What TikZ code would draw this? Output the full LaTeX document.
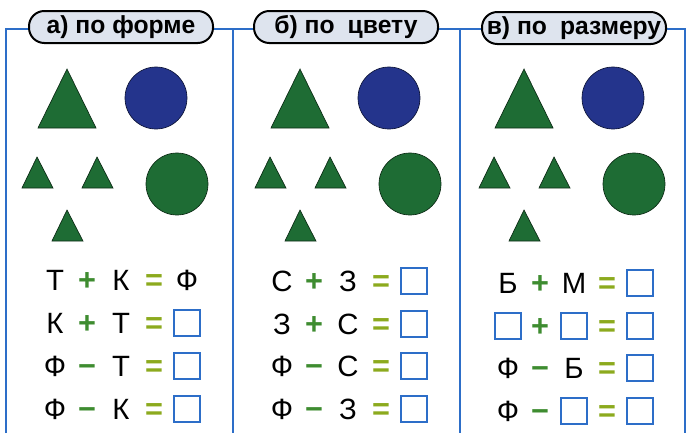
\documentclass[tikz,border=0pt]{standalone}
\usepackage{fontspec}
\setmainfont{Liberation Sans}
\definecolor{frameblue}{RGB}{45,110,200}
\definecolor{capfill}{RGB}{222,228,238}
\definecolor{shgreen}{RGB}{30,108,52}
\definecolor{shblue}{RGB}{36,52,140}
\definecolor{opgreen}{RGB}{62,140,48}
\definecolor{eqcol}{RGB}{140,170,30}
\begin{document}
\begin{tikzpicture}[x=0.75pt, y=-0.75pt,
    head/.style={draw, line width=1.5pt, fill=capfill, rounded corners=11.5pt, minimum width=138pt, minimum height=24pt, inner sep=0pt, font=\bfseries\fontsize{18.5}{18.5}\selectfont},
    sym/.style={inner sep=0pt, text height=15pt, text depth=0pt, font=\fontsize{22}{22}\selectfont},
    op/.style={sym, text=opgreen, font=\bfseries\fontsize{23}{23}\selectfont},
    eq/.style={op, text=eqcol},
    slot/.style={draw=frameblue, line width=1.5pt, minimum size=19pt, inner sep=0pt},
    tri/.style={fill=shgreen, draw=black!60!shgreen, line width=0.5pt},
    disc/.style={draw=black!60!#1, fill=#1, line width=0.5pt}]
    \useasboundingbox (0,0) rectangle (692,433);
    % frame
    \draw[frameblue, line width=1.5pt] (6,433) -- (6,29) -- (685,29) -- (685,433);
    \draw[frameblue, line width=1.5pt] (233,29) -- (233,433);
    \draw[frameblue, line width=1.5pt] (460,29) -- (460,433);
    \node[head] (ha) at (121,27) {а) по форме};
    \node[head] (hb) at (346,27) {б) по\hspace{0.25em} цвету};
    \node[head] (hc) at (574,28) {в) по\hspace{0.25em} размеру};
    % shapes a)
    \filldraw[tri] (67,69) -- (96,128) -- (38,128) -- cycle;
    \filldraw[disc=shblue] (156,98) circle (31);
    \filldraw[tri] (37,157) -- (53,188) -- (22,188) -- cycle;
    \filldraw[tri] (97,157) -- (113,188) -- (82,188) -- cycle;
    \filldraw[tri] (67,210) -- (83,241) -- (52,241) -- cycle;
    \filldraw[disc=shgreen] (177,184) circle (31);
    % shapes b)
    \filldraw[tri] (300,69) -- (329,128) -- (271,128) -- cycle;
    \filldraw[disc=shblue] (389,98) circle (31);
    \filldraw[tri] (270,157) -- (286,188) -- (255,188) -- cycle;
    \filldraw[tri] (330,157) -- (346,188) -- (315,188) -- cycle;
    \filldraw[tri] (300,210) -- (316,241) -- (285,241) -- cycle;
    \filldraw[disc=shgreen] (410,184) circle (31);
    % shapes c)
    \filldraw[tri] (524,69) -- (553,128) -- (495,128) -- cycle;
    \filldraw[disc=shblue] (613,98) circle (31);
    \filldraw[tri] (494,157) -- (510,188) -- (479,188) -- cycle;
    \filldraw[tri] (554,157) -- (570,188) -- (539,188) -- cycle;
    \filldraw[tri] (524,210) -- (540,241) -- (509,241) -- cycle;
    \filldraw[disc=shgreen] (634,184) circle (31);
    % equations a)
    \node[sym] (a11) at (55,280) {Т}; \node[op] (a12) at (87,280) {+}; \node[sym] (a13) at (121,280) {К}; \node[eq] (a14) at (154,280) {=}; \node[sym] (a15) at (187,280) {Ф};
    \node[sym] (a21) at (55,323) {К}; \node[op] (a22) at (87,323) {+}; \node[sym] (a23) at (121,323) {Т}; \node[eq] (a24) at (154,323) {=}; \node[slot] (a25) at (187,323) {};
    \node[sym] (a31) at (55,366) {Ф}; \node[op] (a32) at (87,366) {−}; \node[sym] (a33) at (121,366) {Т}; \node[eq] (a34) at (154,366) {=}; \node[slot] (a35) at (187,366) {};
    \node[sym] (a41) at (55,409) {Ф}; \node[op] (a42) at (87,409) {−}; \node[sym] (a43) at (121,409) {К}; \node[eq] (a44) at (154,409) {=}; \node[slot] (a45) at (187,409) {};
    % equations b)
    \node[sym] (b11) at (282,281) {С}; \node[op] (b12) at (314,281) {+}; \node[sym] (b13) at (348,281) {З}; \node[eq] (b14) at (381,281) {=}; \node[slot] (b15) at (414,281) {};
    \node[sym] (b21) at (282,324) {З}; \node[op] (b22) at (314,324) {+}; \node[sym] (b23) at (348,324) {С}; \node[eq] (b24) at (381,324) {=}; \node[slot] (b25) at (414,324) {};
    \node[sym] (b31) at (282,366) {Ф}; \node[op] (b32) at (314,366) {−}; \node[sym] (b33) at (348,366) {С}; \node[eq] (b34) at (381,366) {=}; \node[slot] (b35) at (414,366) {};
    \node[sym] (b41) at (282,409) {Ф}; \node[op] (b42) at (314,409) {−}; \node[sym] (b43) at (348,409) {З}; \node[eq] (b44) at (381,409) {=}; \node[slot] (b45) at (414,409) {};
    % equations c)
    \node[sym] (c11) at (508,283) {Б}; \node[op] (c12) at (540,283) {+}; \node[sym] (c13) at (574,283) {М}; \node[eq] (c14) at (607,283) {=}; \node[slot] (c15) at (640,283) {};
    \node[slot] (c21) at (508,326) {}; \node[op] (c22) at (540,326) {+}; \node[slot] (c23) at (574,326) {}; \node[eq] (c24) at (607,326) {=}; \node[slot] (c25) at (640,326) {};
    \node[sym] (c31) at (508,368) {Ф}; \node[op] (c32) at (540,368) {−}; \node[sym] (c33) at (574,368) {Б}; \node[eq] (c34) at (607,368) {=}; \node[slot] (c35) at (640,368) {};
    \node[sym] (c41) at (508,411) {Ф}; \node[op] (c42) at (540,411) {−}; \node[slot] (c43) at (574,411) {}; \node[eq] (c44) at (607,411) {=}; \node[slot] (c45) at (640,411) {};
\end{tikzpicture}
\end{document}
